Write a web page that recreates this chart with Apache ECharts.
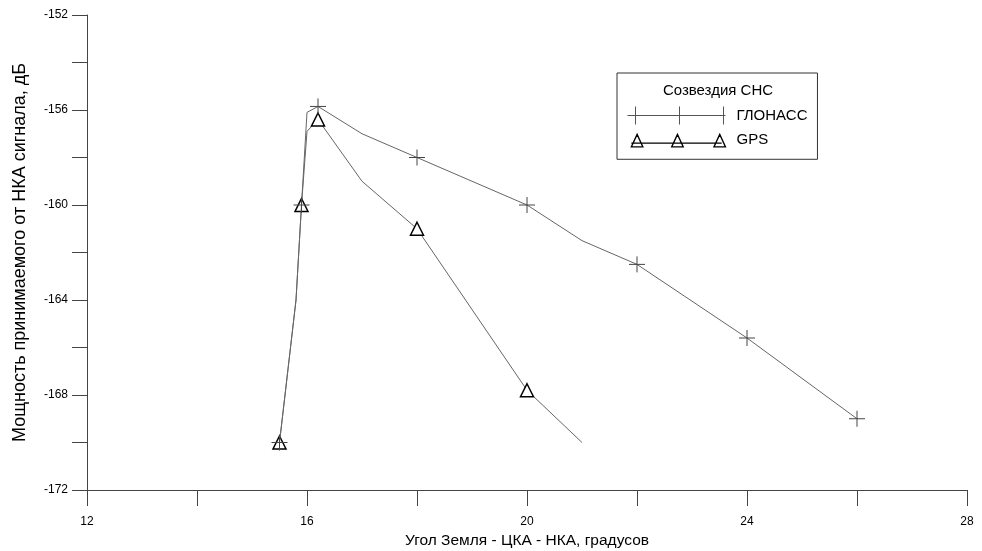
<!DOCTYPE html>
<html>
<head>
<meta charset="utf-8">
<script src="https://cdn.jsdelivr.net/npm/echarts@6/dist/echarts.min.js"></script>
<style>
html,body{margin:0;padding:0;background:#fff;}
#chart{width:982px;height:551px;}
</style>
</head>
<body>
<div id="chart"></div>
<script>
// ---- data ----
const seriesNames = ['ГЛОНАСС', 'GPS'];
const legendTitle = 'Созвездия СНС';
const xAxisName = 'Угол Земля - ЦКА - НКА, градусов';
const yAxisName = 'Мощность принимаемого от НКА сигнала, дБ';

const glonassAngle  = [15.5, 15.8, 15.9, 16.0, 16.2, 17.0, 18.0, 20.0, 21.0, 22.0, 24.0, 26.0];
const glonassPower  = [-170, -164, -160, -156.1, -155.85, -157.0, -158.0, -160.0, -161.5, -162.5, -165.6, -169.0];
const glonassMarked = [1, 0, 1, 0, 1, 0, 1, 1, 0, 1, 1, 1];

const gpsAngle  = [15.5, 15.8, 15.9, 16.0, 16.2, 17.0, 18.0, 20.0, 21.0];
const gpsPower  = [-170, -164, -160, -156.9, -156.4, -159.0, -161.0, -167.8, -170.0];
const gpsMarked = [1, 0, 1, 0, 1, 0, 1, 1, 0];

const xTickLabels = [12, 16, 20, 24, 28];
const yTickLabels = [-172, -168, -164, -160, -156, -152];

// ---- build ----
function build(xs, ys, marked) {
  return xs.map((x, i) => marked[i] ? [x, ys[i]] : { value: [x, ys[i]], symbol: 'none' });
}
const FONT = 'Liberation Sans, Arial, sans-serif';
const plusPath = 'path://M8,0L8,16M0,8L16,8';
const legPlus = 'path://M0,9L98,9M8,0L8,18M52,0L52,18M96,0L96,18';
const legTri = 'path://M0,0L0.01,0M0,18L0.01,18M4,12L98,12M4,16L10,3L16,16ZM46,16L52,3L58,16ZM90,16L96,3L102,16Z';

const chart = echarts.init(document.getElementById('chart'), null, { renderer: 'canvas' });
chart.setOption({
  backgroundColor: '#fff',
  animation: false,
  textStyle: { fontFamily: FONT },
  grid: { left: 87, right: 15, top: 15, bottom: 61, containLabel: false, outerBoundsMode: 'none' },
  xAxis: {
    type: 'value', min: 12, max: 28, interval: 2,
    name: xAxisName, nameLocation: 'middle', nameGap: 43,
    nameTextStyle: { fontSize: 15.5, color: '#000', fontFamily: FONT },
    axisLine: { show: true, onZero: false, lineStyle: { color: '#444', width: 1 } },
    axisTick: { show: true, length: 16, lineStyle: { color: '#444' } },
    axisLabel: { margin: 26, fontSize: 12, color: '#000', fontFamily: FONT,
      formatter: v => xTickLabels.includes(v) ? String(v) : '' },
    splitLine: { show: false }
  },
  yAxis: {
    type: 'value', min: -172, max: -152, interval: 2,
    name: yAxisName, nameLocation: 'middle', nameGap: 58, nameRotate: 90,
    nameTextStyle: { fontSize: 18, color: '#000', fontFamily: FONT },
    axisLine: { show: true, onZero: false, lineStyle: { color: '#444', width: 1 } },
    axisTick: { show: true, length: 15, lineStyle: { color: '#444' } },
    axisLabel: { margin: 19, fontSize: 12, color: '#000', fontFamily: FONT,
      formatter: v => yTickLabels.includes(v) ? String(v) : '' },
    splitLine: { show: false }
  },
  legend: {
    left: 617, top: 73, orient: 'vertical',
    padding: [31, 10, 8, 8],
    itemGap: 2, itemWidth: 98, itemHeight: 18,
    borderColor: '#333', borderWidth: 1,
    textStyle: { fontSize: 15, color: '#000', fontFamily: FONT, padding: [0, 0, 0, 6] },
    data: [
      { name: seriesNames[0], icon: legPlus, itemStyle: { color: 'none', borderColor: '#555', borderWidth: 1 } },
      { name: seriesNames[1], icon: legTri, itemStyle: { color: 'none', borderColor: '#000', borderWidth: 1.3 } }
    ]
  },
  graphic: [{
    type: 'text', x: 718, y: 91, z: 100,
    style: { text: legendTitle, align: 'center', verticalAlign: 'middle',
      fontSize: 15, fontFamily: FONT, fill: '#000' }
  }],
  series: [
    {
      name: seriesNames[1], type: 'line', z: 2,
      data: build(gpsAngle, gpsPower, gpsMarked),
      symbol: 'triangle', symbolSize: [13, 13],
      itemStyle: { color: '#fff', borderColor: '#000', borderWidth: 1.5 },
      lineStyle: { color: '#666', width: 1 },
      emphasis: { disabled: true }
    },
    {
      name: seriesNames[0], type: 'line', z: 3,
      data: build(glonassAngle, glonassPower, glonassMarked),
      symbol: plusPath, symbolSize: 16,
      itemStyle: { color: 'none', borderColor: '#444', borderWidth: 1 },
      lineStyle: { color: '#666', width: 1 },
      emphasis: { disabled: true }
    }
  ]
});
</script>
</body>
</html>
